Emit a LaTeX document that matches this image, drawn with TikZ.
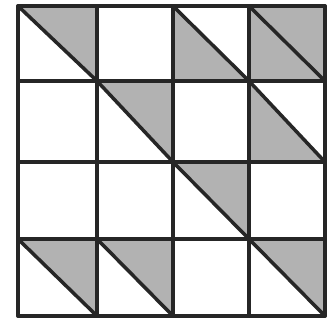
\documentclass[tikz,border=0pt]{standalone}
\begin{document}
\begin{tikzpicture}[x=1pt,y=-1pt,
  gridline/.style={line width=3.5pt,black!85,line cap=round,line join=round},
  shade/.style={fill=black!30}]
\useasboundingbox (0,0) rectangle (333,323);
\fill[white] (0,0) rectangle (333,323);
% column x positions and row y positions
\def\xa{18}\def\xb{97}\def\xc{173}\def\xd{249}\def\xe{325}
\def\ya{6}\def\yb{81}\def\yc{162}\def\yd{239}\def\ye{316}
% shaded triangles: upper-right (TL,TR,BR)
\foreach \l/\r/\t/\b in {\xa/\xb/\ya/\yb, \xb/\xc/\yb/\yc, \xc/\xd/\yc/\yd, \xa/\xb/\yd/\ye, \xb/\xc/\yd/\ye, \xd/\xe/\yd/\ye, \xd/\xe/\ya/\yb}
  \fill[shade] (\l,\t) -- (\r,\t) -- (\r,\b) -- cycle;
% shaded triangles: lower-left (TL,BL,BR)
\foreach \l/\r/\t/\b in {\xc/\xd/\ya/\yb, \xd/\xe/\ya/\yb, \xd/\xe/\yb/\yc}
  \fill[shade] (\l,\t) -- (\l,\b) -- (\r,\b) -- cycle;
% diagonals
\foreach \l/\r/\t/\b in {\xa/\xb/\ya/\yb, \xc/\xd/\ya/\yb, \xd/\xe/\ya/\yb, \xb/\xc/\yb/\yc, \xd/\xe/\yb/\yc, \xc/\xd/\yc/\yd, \xa/\xb/\yd/\ye, \xb/\xc/\yd/\ye, \xd/\xe/\yd/\ye}
  \draw[gridline] (\l,\t) -- (\r,\b);
% grid lines
\foreach \y in {\ya,\yb,\yc,\yd,\ye}
  \draw[gridline] (\xa,\y) -- (\xe,\y);
\foreach \x in {\xa,\xb,\xc,\xd,\xe}
  \draw[gridline] (\x,\ya) -- (\x,\ye);
\end{tikzpicture}
\end{document}
